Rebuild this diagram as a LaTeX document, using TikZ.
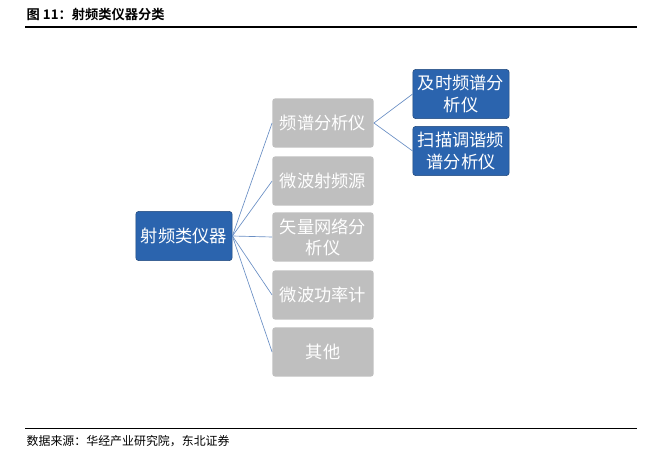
\documentclass[tikz,border=0pt]{standalone}
\usepackage{fontspec}
\setmainfont{Noto Sans CJK SC}
\newfontfamily\titlefont{Noto Sans CJK SC}[BoldFont={* Bold}]
\usetikzlibrary{positioning}
\definecolor{boxblue}{HTML}{2B64AE}
\definecolor{boxgray}{HTML}{BFBFBF}
\definecolor{linkblue}{HTML}{6A8FC4}
\tikzset{
  bluebox/.style={draw=boxblue!70!black, fill=boxblue, text=white, rounded corners=2pt,
    minimum width=2.55cm, minimum height=1.3cm, align=center, font=\fontsize{13}{16}\selectfont},
  graybox/.style={fill=boxgray, text=white, rounded corners=2pt, text width=2.45cm,
    minimum width=2.55cm, minimum height=1.3cm, align=center, font=\fontsize{13}{16}\selectfont},
  link/.style={draw=linkblue, line width=0.5pt}
}
\begin{document}
\begin{tikzpicture}[x=0.0265cm,y=-0.0265cm]
  \useasboundingbox (0,0) rectangle (647,455);
  % title and rules
  \node[anchor=west, font=\titlefont\bfseries\fontsize{10}{12}\selectfont] (title) at (22,14) {图\ 11：射频类仪器分类};
  \draw[line width=0.8pt] (25,27) -- (637,27);
  \draw[line width=0.6pt] (25,428) -- (637,428);
  \node[anchor=west, font=\fontsize{9}{11}\selectfont] (src) at (22,441) {数据来源：华经产业研究院，东北证券};

  % boxes
  \node[bluebox] (rf) at (184,236) {射频类仪器};
  \node[graybox] (sa) at (323,123) {频谱分析仪};
  \node[graybox] (mw) at (323,181) {微波射频源};
  \node[graybox] (vna) at (323,237) {矢量网络分\\析仪};
  \node[graybox] (pm) at (323,295) {微波功率计};
  \node[graybox] (ot) at (323,352) {其他};
  \node[bluebox] (rt) at (461,94) {及时频谱分\\析仪};
  \node[bluebox] (sw) at (461,151) {扫描调谐频\\谱分析仪};

  % connectors
  \foreach \n in {sa,mw,vna,pm,ot}
    \draw[link] (rf.east) -- (\n.west);
  \draw[link] (sa.east) -- (rt.west);
  \draw[link] (sa.east) -- (sw.west);
\end{tikzpicture}
\end{document}
